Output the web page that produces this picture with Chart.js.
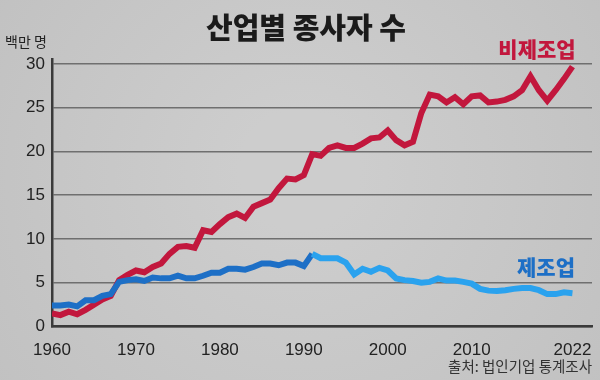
<!DOCTYPE html>
<html>
<head>
<meta charset="utf-8">
<script src="https://cdn.jsdelivr.net/npm/chart.js@4/dist/chart.umd.min.js"></script>
<style>
  html, body { margin: 0; padding: 0; background: #c9c9c9; }
  #wrap { width: 600px; height: 380px; position: relative; }
</style>
</head>
<body>
<div id="wrap"><canvas id="jobsChart" width="600" height="380"></canvas></div>
<script>
// 연도 (1960-2022)
const years = [];
for (let y = 1960; y <= 2022; y++) years.push(y);

// 비제조업 종사자 수 (백만 명)
const nonManufacturing = [
  1.5, 1.3, 1.7, 1.4, 1.9, 2.5, 3.1, 3.5, 5.3, 5.9,
  6.4, 6.2, 6.8, 7.2, 8.3, 9.1, 9.2, 9.0, 11.0, 10.8,
  11.7, 12.5, 12.9, 12.4, 13.7, 14.1, 14.5, 15.8, 16.9, 16.8,
  17.3, 19.7, 19.5, 20.4, 20.7, 20.4, 20.4, 20.9, 21.5, 21.6,
  22.4, 21.3, 20.7, 21.1, 24.4, 26.5, 26.3, 25.6, 26.2, 25.4,
  26.3, 26.4, 25.6, 25.7, 25.9, 26.3, 27.0, 28.6, 27.0, 25.8,
  27.0, 28.3, 29.7
];

// 제조업 종사자 수 (백만 명)
const manufacturing = [
  2.4, 2.4, 2.5, 2.3, 3.0, 3.0, 3.5, 3.7, 5.1, 5.3,
  5.4, 5.2, 5.6, 5.5, 5.5, 5.8, 5.5, 5.5, 5.8, 6.15,
  6.15, 6.6, 6.6, 6.5, 6.8, 7.2, 7.2, 7.0, 7.3, 7.3,
  6.9, 8.3, 7.8, 7.8, 7.8, 7.3, 5.95, 6.6, 6.25, 6.7,
  6.4, 5.5, 5.3, 5.2, 5.0, 5.1, 5.5, 5.25, 5.25, 5.1,
  4.9, 4.3, 4.1, 4.05, 4.15, 4.3, 4.4, 4.4, 4.15, 3.7,
  3.7, 3.9, 3.8
];

const xTicks = [1960, 1970, 1980, 1990, 2000, 2010, 2022];
const yTicks = [0, 5, 10, 15, 20, 25, 30];

const RED = '#c2173d';
const BLUE_DARK = '#1d6fc6';
const BLUE_LIGHT = '#2aa2ee';
const FONT = "'Noto Sans CJK KR', 'Noto Sans', sans-serif";

const toPoints = vals => years.map((yr, i) => ({ x: yr, y: vals[i] }));

// 배경, 제목, 라벨
const decor = {
  id: 'decor',
  beforeDraw(chart) {
    const c = chart.ctx;
    c.save();
    const g = c.createRadialGradient(300, 170, 60, 300, 190, 420);
    g.addColorStop(0, '#cdcdcd');
    g.addColorStop(1, '#bfbfbf');
    c.fillStyle = g;
    c.fillRect(0, 0, chart.width, chart.height);
    c.restore();
  },
  afterDraw(chart) {
    const c = chart.ctx;
    c.save();
    c.textBaseline = 'middle';

    c.fillStyle = '#1b1b1b';
    c.textAlign = 'center';
    c.font = "900 29px " + FONT;
    c.fillText('산업별 종사자 수', 306, 28);

    c.textAlign = 'left';
    c.font = "14px " + FONT;
    c.fillStyle = '#222';
    c.fillText('백만 명', 5, 42);

    c.font = "900 21px " + FONT;
    c.fillStyle = RED;
    c.textAlign = 'center';
    c.fillText('비제조업', 537, 49);
    c.fillStyle = BLUE_DARK;
    c.fillText('제조업', 546, 267);

    c.font = "14.5px " + FONT;
    c.fillStyle = '#333';
    c.textAlign = 'right';
    c.fillText('출처: 법인기업 통계조사', 592, 366);
    c.restore();
  }
};

new Chart(document.getElementById('jobsChart'), {
  type: 'line',
  data: {
    datasets: [
      {
        label: '제조업',
        data: toPoints(manufacturing),
        borderColor: BLUE_DARK,
        borderWidth: 6,
        pointRadius: 0,
        tension: 0,
        segment: {
          borderColor: ctx => ctx.p0DataIndex >= 31 ? BLUE_LIGHT : BLUE_DARK
        }
      },
      {
        label: '비제조업',
        data: toPoints(nonManufacturing),
        borderColor: RED,
        borderWidth: 6,
        pointRadius: 0,
        tension: 0
      }
    ]
  },
  options: {
    responsive: false,
    animation: false,
    layout: { padding: { top: 59.6, right: 8, bottom: 0, left: 0 } },
    plugins: {
      legend: { display: false },
      tooltip: { enabled: false }
    },
    scales: {
      x: {
        type: 'linear',
        min: 1960,
        max: 2024.33,
        afterBuildTicks: s => { s.ticks = xTicks.map(v => ({ value: v })); },
        afterFit: s => { s.height = 53.5; },
        grid: { display: false },
        border: { color: '#3a3a3a', width: 2.5 },
        ticks: {
          color: '#222',
          padding: 6,
          maxRotation: 0,
          font: { family: "'Liberation Sans', sans-serif", size: 17 },
          callback: v => String(v)
        }
      },
      y: {
        min: 0,
        max: 30.5,
        afterBuildTicks: s => { s.ticks = yTicks.map(v => ({ value: v })); },
        afterFit: s => { s.width = 52; },
        grid: { color: '#6f6f6f', lineWidth: 1.5, drawTicks: false },
        border: { color: '#3a3a3a', width: 2.5 },
        ticks: {
          color: '#222',
          padding: 7,
          font: { family: "'Liberation Sans', sans-serif", size: 17 }
        }
      }
    }
  },
  plugins: [decor]
});
</script>
</body>
</html>
